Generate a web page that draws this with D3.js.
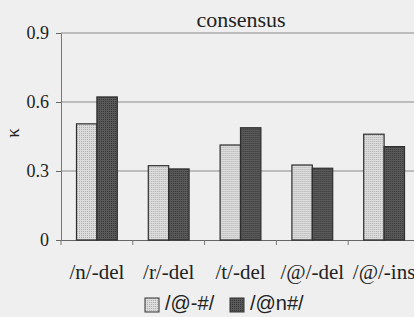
<!DOCTYPE html>
<html>
<head>
<meta charset="utf-8">
<script src="https://cdn.jsdelivr.net/npm/d3@7"></script>
<style>
  body { margin: 0; background: #efefef; }
  svg { display: block; }
</style>
</head>
<body>
<svg id="chart" width="414" height="317"></svg>
<script>
const categories = ['/n/-del', '/r/-del', '/t/-del', '/@/-del', '/@/-ins']
const seriesNames = ['/@-#/', '/@n#/']
const hashEnd = [0.505, 0.323, 0.413, 0.326, 0.46]
const nEnd = [0.622, 0.309, 0.488, 0.312, 0.406]
const yTicks = [0, 0.3, 0.6, 0.9]

const serif = '"Liberation Serif", "Times New Roman", serif'
const sans = '"Liberation Sans", Arial, sans-serif'

const svg = d3.select('#chart')
const margin = { top: 33, right: -6, bottom: 77, left: 61 }
const width = 414 - margin.left - margin.right
const height = 317 - margin.top - margin.bottom

svg.append('rect').attr('width', 414).attr('height', 317).attr('fill', '#efefef')

const defs = svg.append('defs')
const mkPattern = (id, bg, dot) => {
  const p = defs.append('pattern').attr('id', id)
    .attr('width', 2).attr('height', 2).attr('patternUnits', 'userSpaceOnUse')
  p.append('rect').attr('width', 2).attr('height', 2).attr('fill', bg)
  p.append('rect').attr('width', 1).attr('height', 1).attr('fill', dot)
}
mkPattern('pLight', '#dcdcdc', '#b0b0b0')
mkPattern('pDark', '#5a5a5a', '#363636')
const fills = ['url(#pLight)', 'url(#pDark)']

const g = svg.append('g').attr('transform', `translate(${margin.left},${margin.top})`)

const x = d3.scaleBand().domain(categories).range([0, width]).paddingInner(0).paddingOuter(0)
const xSub = d3.scaleBand().domain(seriesNames).range([15.5, x.bandwidth() - 15.5])
const y = d3.scaleLinear().domain([0, 0.9]).range([height, 0])

// grid lines
g.selectAll('.grid').data(yTicks.filter(d => d > 0)).enter().append('line')
  .attr('x1', 0).attr('x2', width)
  .attr('y1', d => y(d)).attr('y2', d => y(d))
  .attr('stroke', '#8a8a8a').attr('stroke-width', 1)

// y axis
const yAxis = d3.axisLeft(y).tickValues(yTicks).tickSize(5).tickPadding(7)
  .tickFormat(d => d === 0 ? '0' : d3.format('.1f')(d))
const ya = g.append('g').call(yAxis)
ya.attr('font-family', null).attr('font-size', null)
ya.select('.domain').attr('stroke', '#777')
ya.selectAll('.tick line').attr('stroke', '#666')
ya.selectAll('text').style('font-family', serif).style('font-size', '18px').attr('fill', '#222')

// x axis
const xAxis = d3.axisBottom(x).tickSize(0).tickPadding(24)
const xa = g.append('g').attr('transform', `translate(0,${height})`).call(xAxis)
xa.attr('font-family', null).attr('font-size', null)
xa.select('.domain').attr('stroke', '#666')
xa.selectAll('text').style('font-family', serif).style('font-size', '21px').attr('fill', '#222')
xa.selectAll('.sep').data(categories).enter().append('line')
  .attr('x1', d => x(d)).attr('x2', d => x(d)).attr('y1', 0).attr('y2', 5)
  .attr('stroke', '#777')

// bars
const groups = g.selectAll('.grp').data(categories).enter().append('g')
  .attr('transform', d => `translate(${x(d)},0)`)
groups.selectAll('rect')
  .data((d, i) => [hashEnd[i], nEnd[i]].map((v, j) => ({ key: seriesNames[j], v, j })))
  .enter().append('rect')
  .attr('x', d => xSub(d.key))
  .attr('y', d => y(d.v))
  .attr('width', xSub.bandwidth())
  .attr('height', d => height - y(d.v))
  .attr('fill', d => fills[d.j])
  .attr('stroke', '#2e2e2e').attr('stroke-width', 1.2)

// title
svg.append('text').attr('x', 241).attr('y', 27).attr('text-anchor', 'middle')
  .style('font-family', serif).style('font-size', '22px').attr('fill', '#222')
  .text('consensus')

// y label
svg.append('text').attr('transform', 'translate(19,133) rotate(-90)')
  .attr('text-anchor', 'middle')
  .style('font-family', serif).style('font-size', '19px').attr('fill', '#222')
  .text('κ')

// legend
const legendX = [145, 230]
const leg = svg.selectAll('.leg').data(seriesNames).enter().append('g')
  .attr('transform', (d, i) => `translate(${legendX[i]},298)`)
leg.append('rect').attr('width', 14).attr('height', 14)
  .attr('fill', (d, i) => fills[i]).attr('stroke', '#333')
leg.append('text').attr('x', 20).attr('y', 12)
  .style('font-family', sans).style('font-size', '20px').attr('fill', '#222')
  .text(d => d)
</script>
</body>
</html>
